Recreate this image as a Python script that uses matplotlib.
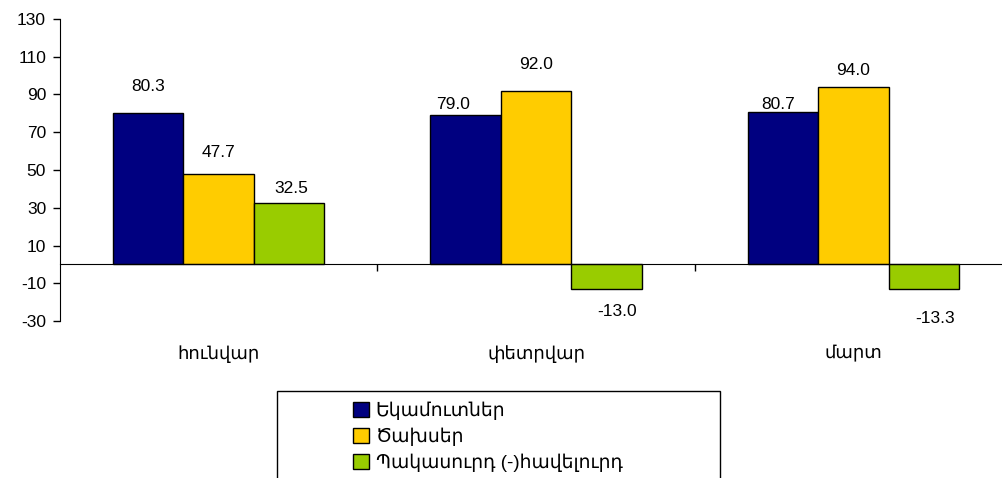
import matplotlib
matplotlib.use("Agg")
import matplotlib.pyplot as plt
from matplotlib.patches import Rectangle
import numpy as np

plt.rcParams['font.family'] = ['Liberation Sans', 'DejaVu Sans']
plt.rcParams['axes.unicode_minus'] = False

months = ['հունվար', 'փետրվար', 'մարտ']
series_names = ['Եկամուտներ', 'Ծախսեր', 'Պակասուրդ (-)հավելուրդ']
income = [80.3, 79.0, 80.7]
expense = [47.7, 92.0, 94.0]
balance = [32.5, -13.0, -13.3]
colors = ['#000080', '#FFCC00', '#99CC00']

# label offsets (pixels) as Excel placed them
label_dx = [[0, -12, -5], [0, 0, 0], [2, 11, 11]]
label_dy = [[26, 11, 8], [22, 26, 16], [15, -23, -29]]

fig = plt.figure(figsize=(10.02, 4.78), dpi=100)
W, H = 1002, 478
ax = fig.add_axes([60 / W, 157 / H, 952 / W, 302 / H])

x = np.arange(len(months)) + 0.5
bw = 0.222
values = [income, expense, balance]
for i, (vals, c) in enumerate(zip(values, colors)):
    pos = x + (i - 1) * bw
    ax.bar(pos, vals, bw, color=c, edgecolor='black', linewidth=1,
           label=series_names[i], zorder=2)
    for j, v in enumerate(vals):
        ax.annotate(f'{v:.1f}', (pos[j], v), xytext=(label_dx[i][j] * 0.72, label_dy[i][j] * 0.72),
                    textcoords='offset points', ha='center', va='center', fontsize=12.5)

ax.set_xlim(0, 3)
ax.set_ylim(-30, 130)
ax.set_yticks(np.arange(-30, 131, 20))
ax.spines['top'].set_visible(False)
ax.spines['right'].set_visible(False)
ax.spines['bottom'].set_position(('data', 0))
ax.set_xticks([1, 2])
ax.set_xticklabels([])
ax.tick_params(axis='x', direction='out', length=5, width=1)
ax.tick_params(axis='y', direction='out', length=5, width=1, labelsize=12.5, pad=5)
for m, xc in zip(months, x):
    ax.text(xc, -47.5, m, ha='center', va='center', fontsize=13)

fig.add_artist(Rectangle((277 / W, -0.05), 443 / W, (H - 391) / H + 0.05,
                         transform=fig.transFigure, fill=False, edgecolor='black', linewidth=1))
fig.legend(loc='upper left', bbox_to_anchor=(353 / W, 1 - 402 / H), frameon=False,
           fontsize=13.5, handlelength=0.85, handleheight=0.85, handletextpad=0.35,
           labelspacing=0.38, borderpad=0, borderaxespad=0)

fig.savefig('out.png', dpi=100)
